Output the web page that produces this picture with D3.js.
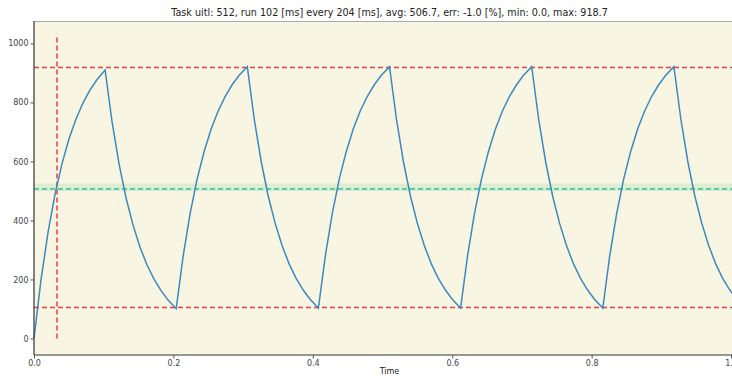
<!DOCTYPE html>
<html><head><meta charset="utf-8">
<script src="https://cdn.jsdelivr.net/npm/d3@7"></script>
<style>body{margin:0;background:#fff}svg{display:block}text{font-family:"DejaVu Sans",sans-serif}</style>
</head><body><svg id="c" width="732" height="376"></svg>
<script>
const title = "Task uitl: 512, run 102 [ms] every 204 [ms], avg: 506.7, err: -1.0 [%], min: 0.0, max: 918.7";
const xTicks = [0.0, 0.2, 0.4, 0.6, 0.8, 1.0];
const yTicks = [0, 200, 400, 600, 800, 1000];
const times = [
  0,.01,.02,.03,.04,.05,.06,.07,.08,.09,.102,
  .112,.122,.132,.142,.152,.162,.172,.182,.192,.204,
  .214,.224,.234,.244,.254,.264,.274,.284,.294,.306,
  .316,.326,.336,.346,.356,.366,.376,.386,.396,.408,
  .418,.428,.438,.448,.458,.468,.478,.488,.498,.510,
  .520,.530,.540,.550,.560,.570,.580,.590,.600,.612,
  .622,.632,.642,.652,.662,.672,.682,.692,.702,.714,
  .724,.734,.744,.754,.764,.774,.784,.794,.804,.816,
  .826,.836,.846,.856,.866,.876,.886,.896,.906,.918,
  .928,.938,.948,.958,.968,.978,.988,.998,1.008,1.020
];
const util = [
  0,198,358,487,591,675,742,797,841,876,910,
  734,592,477,385,310,250,202,163,131,101,
  280,424,540,633,709,770,819,859,891,921,
  743,599,483,390,314,253,204,165,133,103,
  281,425,541,634,710,771,820,859,891,921,
  743,599,483,390,314,253,204,165,133,103,
  281,425,541,634,710,771,820,859,891,921,
  743,599,483,390,314,253,204,165,133,103,
  281,425,541,634,710,771,820,859,891,921,
  743,599,483,390,314,253,204,165,133,103
];
const maxLine = 918.7, minLine = 105, avgLine = 506.7;
const band = [499, 525];
const settleT = 0.033, settleRange = [0, 1024];

const svg = d3.select("#c");
const L = 34, R = 745, T = 21, B = 355;
const x = d3.scaleLinear().domain([0, 1.02]).range([L, R]);
const y = d3.scaleLinear().domain([-56, 1076]).range([B, T]);

svg.append("rect").attr("x", L).attr("y", T).attr("width", R - L).attr("height", B - T).attr("fill", "#f8f6e3");
svg.append("rect").attr("x", L).attr("width", R - L).attr("y", y(band[1])).attr("height", y(band[0]) - y(band[1]))
  .attr("fill", "#a8e0a8").attr("opacity", 0.35);
svg.append("line").attr("x1", L).attr("x2", R).attr("y1", y(avgLine)).attr("y2", y(avgLine))
  .attr("stroke", "#35b8a8").attr("stroke-width", 1.4).attr("stroke-dasharray", "5,3");

const red = "#f03c40";
[maxLine, minLine].forEach(v => svg.append("line").attr("x1", L).attr("x2", R).attr("y1", y(v)).attr("y2", y(v))
  .attr("stroke", red).attr("stroke-width", 1.5).attr("stroke-dasharray", "5,3"));
svg.append("line").attr("x1", x(settleT)).attr("x2", x(settleT)).attr("y1", y(settleRange[0])).attr("y2", y(settleRange[1]))
  .attr("stroke", red).attr("stroke-width", 1.5).attr("stroke-dasharray", "5,3");

const pts = times.map((t, i) => [t, util[i]]);
svg.append("path").datum(pts).attr("fill", "none").attr("stroke", "#3d89bd").attr("stroke-width", 1.5)
  .attr("d", d3.line().x(d => x(d[0])).y(d => y(d[1])));

// spines
svg.append("line").attr("x1", L).attr("x2", R).attr("y1", T + 0.5).attr("y2", T + 0.5).attr("stroke", "#aaa");
const xa = svg.append("g").attr("transform", `translate(0,${B})`)
  .call(d3.axisBottom(x).tickValues(xTicks).tickFormat(d3.format(".1f")).tickSize(3.5).tickPadding(2));
const ya = svg.append("g").attr("transform", `translate(${L},0)`)
  .call(d3.axisLeft(y).tickValues(yTicks).tickFormat(d3.format("d")).tickSize(3.5).tickPadding(2));
[xa, ya].forEach(g => {
  g.select(".domain").attr("stroke", "#333").attr("stroke-width", 1.2);
  g.selectAll(".tick line").attr("stroke", "#555");
  g.selectAll("text").attr("fill", "#444").style("font-size", "8px").style("font-family", "DejaVu Sans, sans-serif");
});
ya.select(".domain").attr("d", `M0,${T}V${B}`);
xa.select(".domain").attr("d", `M${L},0H${R}`);

svg.append("text").attr("x", (L + R) / 2).attr("y", 16).attr("text-anchor", "middle")
  .attr("fill", "#222").style("font-size", "9.6px").text(title);
svg.append("text").attr("x", (L + R) / 2).attr("y", 374).attr("text-anchor", "middle")
  .attr("fill", "#222").style("font-size", "8px").text("Time");
</script></body></html>
